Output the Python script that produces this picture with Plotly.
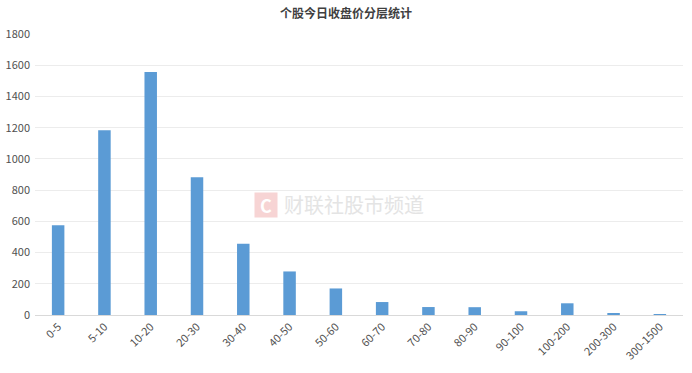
import plotly.graph_objects as go

categories = ["0-5", "5-10", "10-20", "20-30", "30-40", "40-50", "50-60", "60-70",
              "70-80", "80-90", "90-100", "100-200", "200-300", "300-1500"]
counts = [575, 1183, 1557, 882, 456, 279, 170, 83, 51, 50, 24, 75, 13, 6]
y_ticks = [0, 200, 400, 600, 800, 1000, 1200, 1400, 1600, 1800]
title_text = "个股今日收盘价分层统计"
watermark_text = "财联社股市频道"

font_family = "Noto Sans CJK SC, Open Sans, sans-serif"

fig = go.Figure(go.Bar(
    x=categories, y=counts,
    marker=dict(color="#5b9bd5", line=dict(width=0)),
))

fig.update_layout(
    width=692, height=373,
    margin=dict(l=35, r=9, t=34, b=58),
    paper_bgcolor="white", plot_bgcolor="white",
    bargap=0.73,
    showlegend=False,
    font=dict(family=font_family, color="#595959"),
    title=dict(text="<b>" + title_text + "</b>", x=0.5, xanchor="center",
               y=1 - 14 / 373, yanchor="middle",
               font=dict(size=12, color="#404040", family=font_family)),
    xaxis=dict(
        type="category", tickangle=-45, showgrid=False, automargin=False,
        showline=True, linecolor="#d9d9d9", linewidth=1,
        ticks="", tickfont=dict(size=11, color="#505050"),
    ),
    yaxis=dict(
        range=[0, 1800], tickvals=y_ticks, showgrid=True, automargin=False,
        gridcolor="#ececec", gridwidth=1, zeroline=False,
        showline=False, ticks="", ticklabelstandoff=4,
        tickfont=dict(size=11, color="#505050"),
    ),
)

fig.add_annotation(
    xref="paper", yref="paper", x=(266 - 35) / 648, y=(315 - 205) / 281,
    text="<b>C</b>", showarrow=False, font=dict(size=18, color="white", family=font_family),
    bgcolor="#f7d4d4", borderpad=1, width=20, height=22,
)
fig.add_annotation(
    xref="paper", yref="paper", x=(354 - 35) / 648, y=(315 - 205) / 281,
    text=watermark_text, showarrow=False,
    font=dict(size=20, color="#e4e4e4", family=font_family),
)

fig.write_html("out.html")
